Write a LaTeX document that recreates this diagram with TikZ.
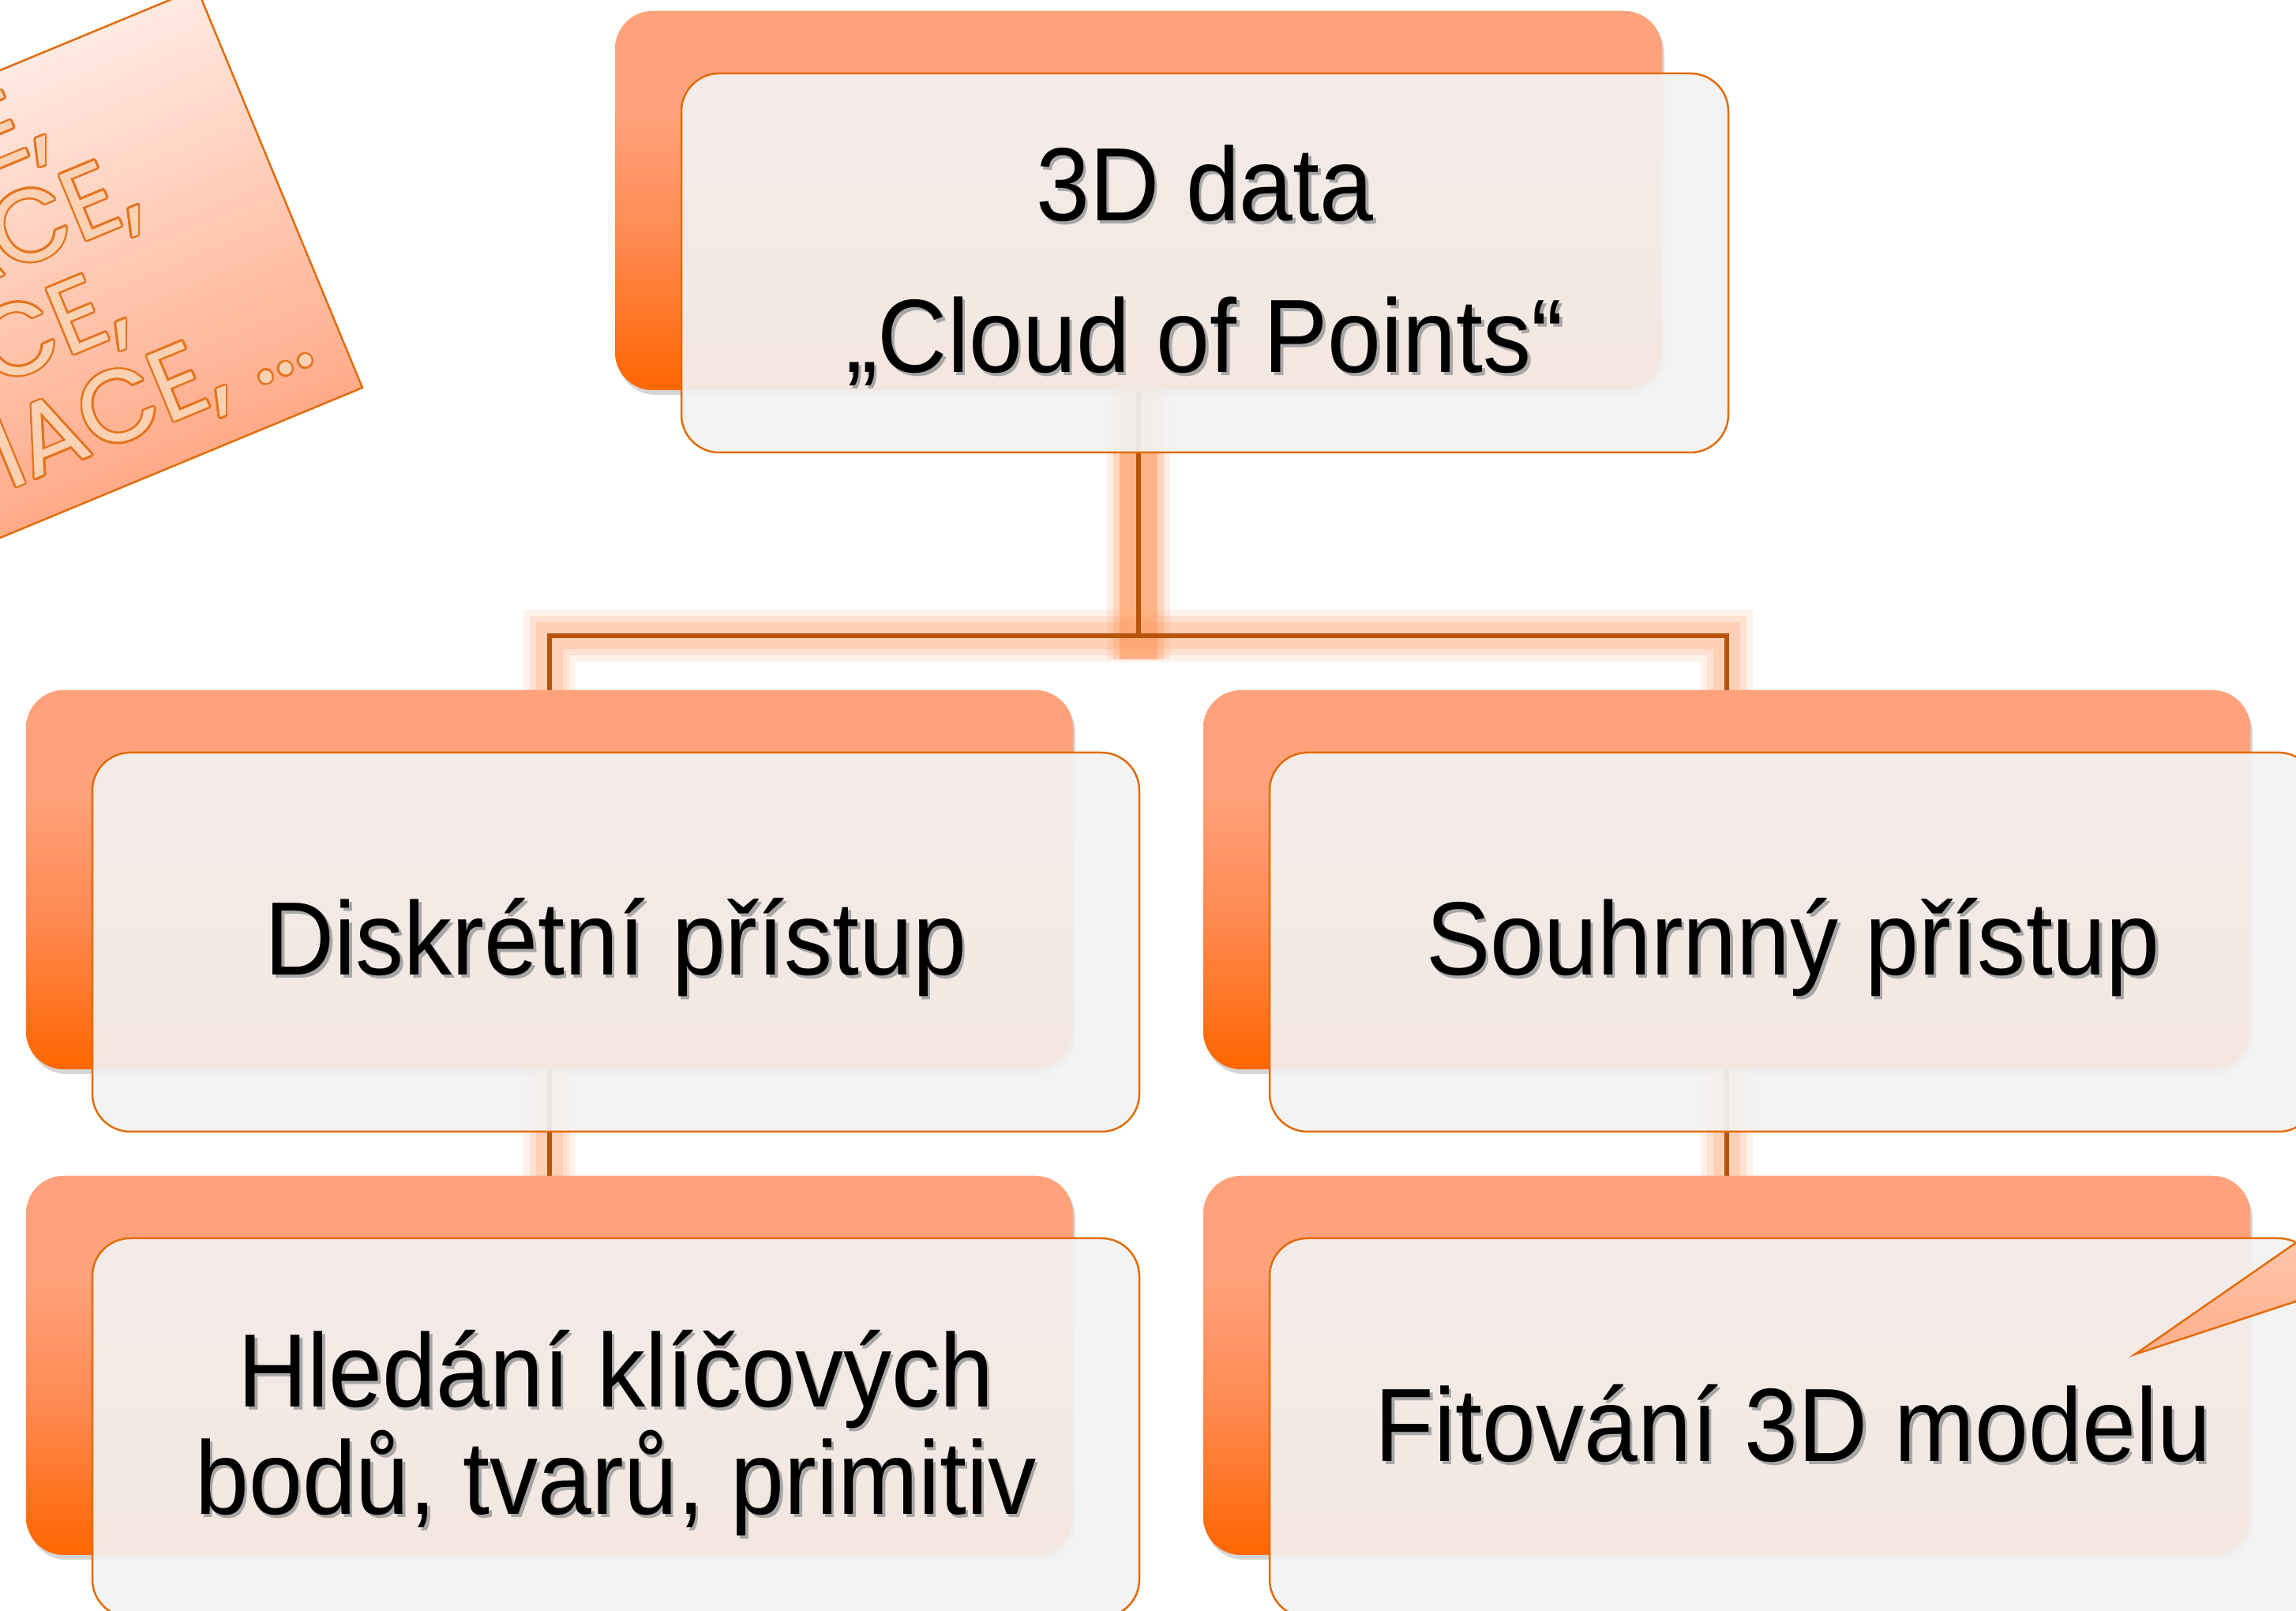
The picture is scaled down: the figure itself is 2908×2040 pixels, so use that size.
\documentclass[tikz,border=0pt]{standalone}
\usepackage{fontspec}
\setmainfont{Liberation Sans}[FakeStretch=0.925]
\newfontfamily\gfont{Poppins}
\usepackage{contour}
\contourlength{2.5pt}
\contournumber{24}
\usetikzlibrary{shadows}
\definecolor{ortop}{HTML}{FFA27C}
\definecolor{ormid}{HTML}{FF8A52}
\definecolor{orbot}{HTML}{FF6600}
\definecolor{frontc}{HTML}{F2F2F2}
\definecolor{edgeor}{HTML}{E36C0A}
\definecolor{lineor}{HTML}{B8540A}
\definecolor{glowc}{HTML}{FF9A5E}
\definecolor{glowl}{HTML}{FFA878}
\definecolor{rtop}{HTML}{FFEAE2}
\definecolor{rbot}{HTML}{FFAA88}
\definecolor{ctop}{HTML}{FFC8AE}
\definecolor{cbot}{HTML}{FFAE8A}
\definecolor{gfill}{HTML}{FAD2B3}
\definecolor{gedge}{HTML}{E5741E}
\pgfdeclareverticalshading{backsh}{100bp}{color(0bp)=(orbot); color(25bp)=(orbot); color(45bp)=(ormid); color(62bp)=(ortop); color(100bp)=(ortop)}
\newcommand\sht[1]{\rlap{\kern3.5pt\raisebox{-3.5pt}{\textcolor{black!35}{#1}}}#1}
\tikzset{
  backbox/.style={minimum width=1326, minimum height=480, rounded corners=48, inner sep=0, outer sep=0, shade, shading=backsh,
    drop shadow={shadow xshift=3, shadow yshift=-6, opacity=0.18}},
  frontbox/.style={minimum width=1326, minimum height=480, rounded corners=48, inner sep=0, outer sep=0,
    fill=frontc, fill opacity=0.92, draw=edgeor, line width=2.5},
  txt/.style={font=\fontsize{132}{150}\selectfont, inner sep=0, anchor=base, text=black},
  gtxt/.style={font=\gfont\fontsize{128}{140}\selectfont, inner sep=0, anchor=base east, text=gfill, transform shape},
  glowlow/.style={draw=glowl,
    preaction={draw=glowl, line width=66, draw opacity=0.14},
    preaction={draw=glowl, line width=50, draw opacity=0.22},
    line width=34, draw opacity=0.30},
  glowtop/.style={draw=glowc,
    preaction={draw=glowc, line width=80, draw opacity=0.15},
    preaction={draw=glowc, line width=64, draw opacity=0.30},
    line width=48, draw opacity=0.55},
  conn/.style={draw=lineor, line width=6}
}
\begin{document}
\begin{tikzpicture}[x=1pt,y=1pt]
\useasboundingbox (0,0) rectangle (2908,2040);
\fill[white] (0,0) rectangle (2908,2040);
\clip (0,0) rectangle (2908,2040);

% rotated note (top left)
\begin{scope}[transform canvas={shift={(459,1549)},rotate=22.5}]
\shade[top color=rtop, bottom color=rbot, draw=edgeor, line width=2.5] (-510,0) rectangle (0,547);
\end{scope}
\begin{scope}[shift={(459,1549)},rotate=22.5]
\node[gtxt] (r1) at (-245,433) {\contour{gedge}{E,}};
\node[gtxt] (r2) at (-170,306) {\contour{gedge}{ACE,}};
\node[gtxt] (r3) at (-240,179) {\contour{gedge}{ACE,}};
\node[gtxt] (r4) at (-40,52) {\contour{gedge}{MACE, ...}};
\end{scope}

% node positions
\coordinate (pb1) at (1442,1786);
\coordinate (pb2) at (696,926);
\coordinate (pb3) at (2187,926);
\coordinate (pb4) at (696,311);
\coordinate (pb5) at (2187,311);

\path (pb1) node[backbox] (b1) {};
\path (pb2) node[backbox] (b2) {};
\path (pb3) node[backbox] (b3) {};
\path (pb4) node[backbox] (b4) {};
\path (pb5) node[backbox] (b5) {};

% connectors (drawn under the front boxes)
\coordinate (j) at (1442,1235);
\coordinate (jg) at (1442,1205);
\path[glowlow] (j) -| (b2.north) (j) -| (b3.north)
  (b2.south) -- (b4.north) (b3.south) -- (b5.north);
\path[glowtop] (b1.south) -- (jg);
\path[conn] (b1.south) -- (j) (j) -| (b2.north) (j) -| (b3.north)
  (b2.south) -- (b4.north) (b3.south) -- (b5.north);

% redraw back boxes over connector ends
\path (pb1) node[backbox] (b1x) {};
\path (pb2) node[backbox] (b2x) {};
\path (pb3) node[backbox] (b3x) {};
\path (pb4) node[backbox] (b4x) {};
\path (pb5) node[backbox] (b5x) {};

% front boxes
\node[frontbox] (f1) at (1526,1707) {};
\node[frontbox] (f2) at (780,847) {};
\node[frontbox] (f3) at (2271,847) {};
\node[frontbox] (f4) at (780,232) {};
\node[frontbox] (f5) at (2271,232) {};

% texts
\node[txt] (t1a) at (1526,1760) {\sht{3D data}};
\node[txt] (t1b) at (1526,1568) {\sht{„Cloud of Points“}};
\node[txt] (t2) at (780,805) {\sht{Diskrétní přístup}};
\node[txt] (t3) at (2271,805) {\sht{Souhrnný přístup}};
\node[txt] (t4a) at (780,258) {\sht{Hledání klíčových}};
\node[txt] (t4b) at (780,122) {\sht{bodů, tvarů, primitiv}};
\node[txt] (t5) at (2271,189) {\sht{Fitování 3D modelu}};

% callout pointer (bottom right)
\coordinate (ctip) at (2704,325);
\shade[top color=ctop, bottom color=cbot, draw=edgeor, line width=2.5, line join=miter]
  (ctip) -- (2932,483) -- (2932,400) -- cycle;
\end{tikzpicture}
\end{document}
